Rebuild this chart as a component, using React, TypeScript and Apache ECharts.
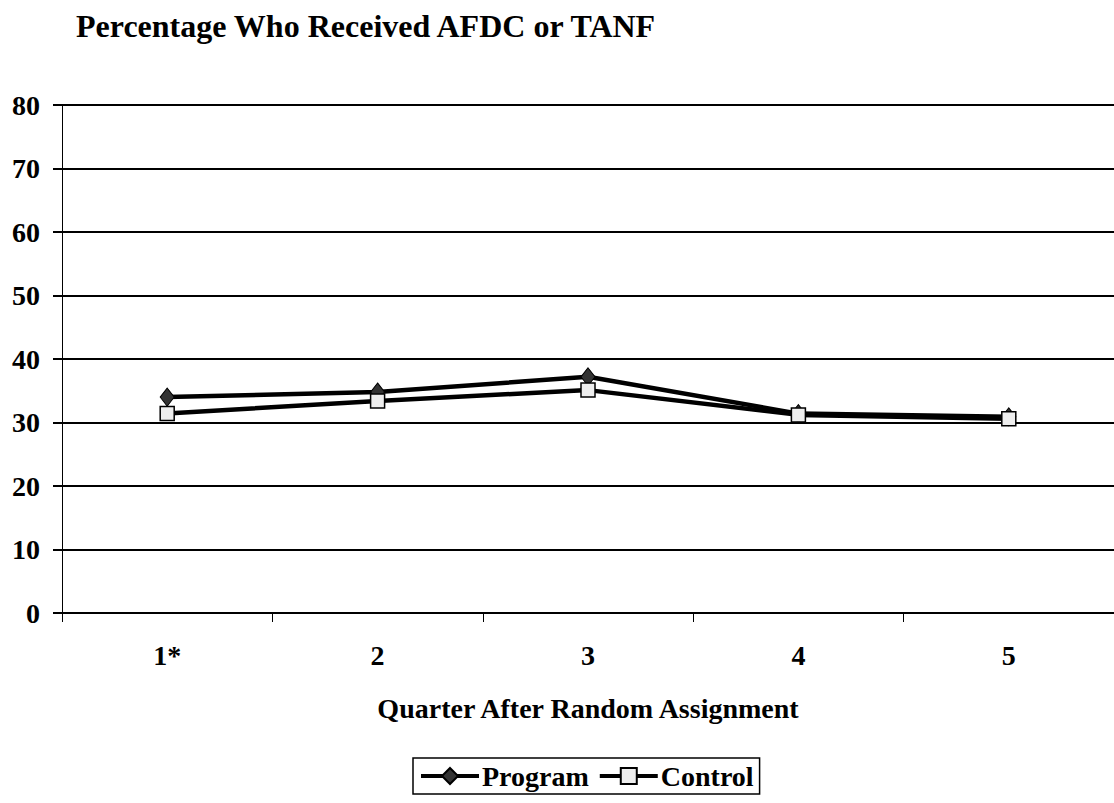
import React, { useEffect, useRef } from "react";
import * as echarts from "echarts";

const categories = ["1*", "2", "3", "4", "5"];
const programValues = [34.0, 34.8, 37.2, 31.4, 30.9];
const controlValues = [31.4, 33.4, 35.1, 31.2, 30.6];
const yTicks = { min: 0, max: 80, interval: 10 };

const FONT = "Liberation Serif";

export default function App() {
  const ref = useRef<HTMLDivElement>(null);
  useEffect(() => {
    const chart = echarts.init(ref.current!, null, { renderer: "svg" });
    const textBase = { fontFamily: FONT, fontWeight: "bold" as const, fontSize: 28, color: "#000" };
    chart.setOption({
      animation: false,
      backgroundColor: "#fff",
      textStyle: { fontFamily: FONT },
      title: {
        text: "Percentage Who Received AFDC or TANF",
        left: 71,
        top: 5,
        textStyle: { ...textBase, fontSize: 32 },
      },
      grid: { left: 62, right: 0, top: 105, bottom: 190 },
      legend: {
        top: 758,
        left: 413,
        padding: [4, 6, 4, 6],
        borderColor: "#000",
        borderWidth: 1.5,
        itemWidth: 58,
        itemHeight: 20,
        itemGap: 9,
        lineStyle: { width: 4, color: "#000" },
        textStyle: { ...textBase, padding: [0, 0, 0, -2] },
        data: ["Program", "Control"],
      },
      xAxis: {
        type: "category",
        data: categories,
        boundaryGap: true,
        name: "Quarter After Random Assignment",
        nameLocation: "middle",
        nameGap: 81,
        nameTextStyle: { ...textBase },
        axisLine: { lineStyle: { color: "#000", width: 2 } },
        axisTick: { show: true, length: 9, inside: false, alignWithLabel: false, lineStyle: { color: "#000", width: 1 } },
        axisLabel: { ...textBase, margin: 28 },
      },
      yAxis: {
        type: "value",
        min: yTicks.min,
        max: yTicks.max,
        interval: yTicks.interval,
        axisLine: { show: true, lineStyle: { color: "#000", width: 1 } },
        axisTick: { show: true, length: 9, lineStyle: { color: "#000", width: 2 } },
        axisLabel: { ...textBase, margin: 22 },
        splitLine: { show: true, lineStyle: { color: "#000", width: 2 } },
      },
      series: [
        {
          name: "Program",
          type: "line",
          data: programValues,
          symbol: "diamond",
          symbolSize: [14, 18],
          lineStyle: { color: "#000", width: 4.5 },
          itemStyle: { color: "#333", borderColor: "#000", borderWidth: 1 },
          z: 2,
        },
        {
          name: "Control",
          type: "line",
          data: controlValues,
          symbol: "rect",
          symbolSize: 14,
          lineStyle: { color: "#000", width: 4.5 },
          itemStyle: { color: "#eeeeee", borderColor: "#000", borderWidth: 1.5 },
          z: 3,
        },
      ],
    });
    return () => chart.dispose();
  }, []);
  return (
    <div
      ref={ref}
      style={{ position: "absolute", left: 0, top: 0, width: 1114, height: 803 }}
    />
  );
}
